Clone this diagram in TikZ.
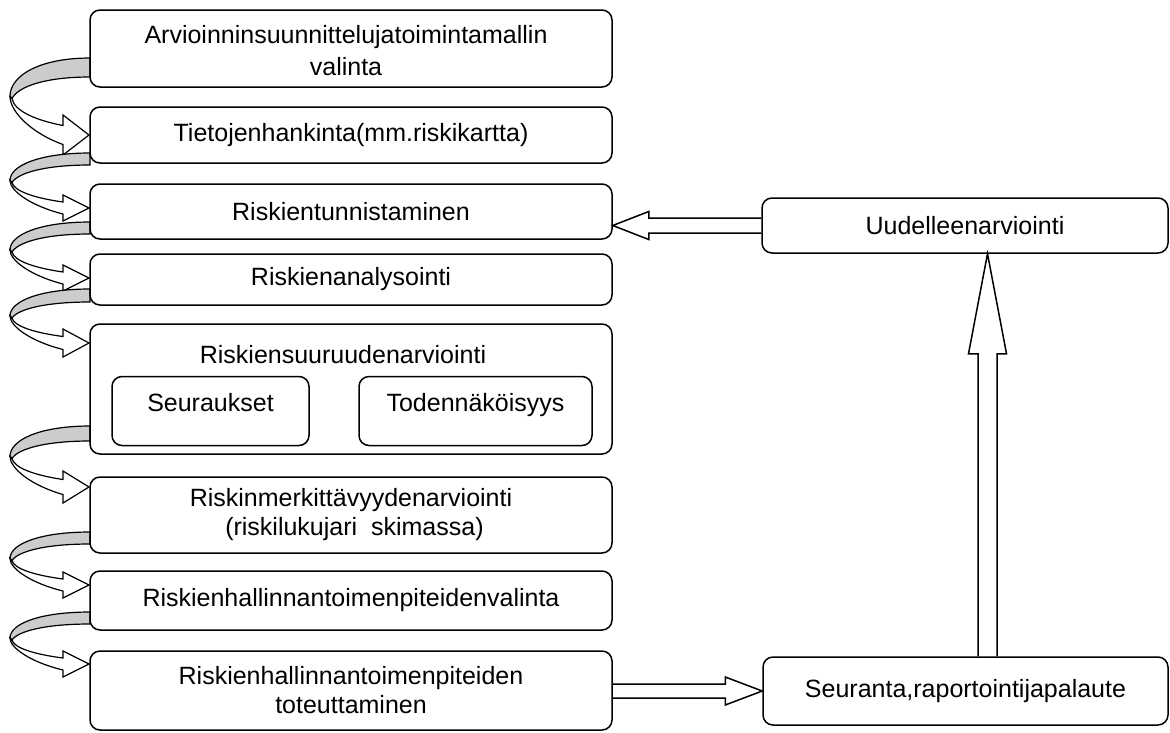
\documentclass[tikz,border=0pt]{standalone}
\usepackage{fontspec}
\setmainfont{Liberation Sans}
\usetikzlibrary{calc}
\newcommand{\boxfont}{\fontsize{25}{29}\selectfont}
\tikzset{
  procbox/.style={draw, rounded corners=10pt, line width=1.5pt, fill=white, inner sep=0pt, font=\boxfont},
  turnback/.style={draw, line width=1.2pt, fill=gray!40},
  turnfront/.style={draw, line width=1.2pt, fill=white},
  blockarrow/.style={draw, line width=1.5pt, line join=miter}
}
% curved ribbon arrow on the left: top of band, band width, tip
\newcommand{\turnarrow}[3]{%
  \pgfmathsetmacro{\cvM}{(#1+#3)/2}%
  \pgfmathsetmacro{\cvB}{#1+#2}%
  \pgfmathsetmacro{\cvC}{\cvM+2}%
  \pgfmathsetmacro{\cvA}{#1+0.45*(\cvM-#1)}%
  \pgfmathsetmacro{\cvG}{\cvB+0.45*(\cvC-\cvB)}%
  \pgfmathsetmacro{\cvO}{#3+#2/2}%
  \pgfmathsetmacro{\cvI}{#3-#2/2}%
  \pgfmathsetmacro{\cvP}{\cvM+0.3*(\cvO-\cvM)}%
  \pgfmathsetmacro{\cvQ}{\cvO-0.25*(\cvO-\cvM)}%
  \pgfmathsetmacro{\cvR}{\cvI-0.2*(\cvI-\cvC)}%
  \pgfmathsetmacro{\cvS}{\cvC+0.45*(\cvI-\cvC)}%
  \pgfmathsetmacro{\cvHb}{#3+#2+1}%
  \pgfmathsetmacro{\cvHt}{#3-#2-1}%
  \path[turnback] (90,#1) .. controls (40,#1) and (10,\cvA) .. (10,\cvM)
    -- (12,\cvC) .. controls (18,\cvG) and (45,\cvB) .. (90,\cvB) -- cycle;
  \path[turnfront] (10,\cvM) .. controls (10,\cvP) and (30,\cvQ) .. (63,\cvO)
    -- (63,\cvHb) -- (89,#3) -- (63,\cvHt) -- (63,\cvI)
    .. controls (35,\cvR) and (14,\cvS) .. (12,\cvC) -- cycle;
}

\begin{document}
\begin{tikzpicture}[x=1pt, y=-1pt]
\useasboundingbox (0,0) rectangle (1170,732);
% arrows between the steps
\turnarrow{58}{19}{135}
\turnarrow{153}{12}{208}
\turnarrow{222}{12}{278}
\turnarrow{289}{13}{343}
\turnarrow{426}{15}{487}
\turnarrow{532}{12}{585}
\turnarrow{612}{12}{664}
% steps
\node[procbox, minimum width=522, minimum height=77] (b1) at (351,48.5) {};
\node[font=\boxfont, align=center] (b1t) at (346,51) {Arvioinninsuunnittelujatoimintamallin\\[3pt]valinta};
\node[procbox, minimum width=522, minimum height=56] (b2) at (351,135) {Tietojenhankinta(mm.riskikartta)};
\node[procbox, minimum width=522, minimum height=55] (b3) at (351,211.5) {Riskientunnistaminen};
\node[procbox, minimum width=522, minimum height=51] (b4) at (351,279.5) {Riskienanalysointi};
\node[procbox, minimum width=522, minimum height=130] (b5) at (351,389) {};
\node[font=\boxfont] (b5t) at (343,355) {Riskiensuuruudenarviointi};
\node[procbox, minimum width=197, minimum height=69, text depth=18pt] (seur) at (210.5,411) {Seuraukset};
\node[procbox, minimum width=233, minimum height=69, text depth=18pt] (tod) at (475.5,411) {Todennäköisyys};
\node[procbox, minimum width=522, minimum height=76, align=center] (b6) at (351,515) {Riskinmerkittävyydenarviointi\\\ (riskilukujari\ \ skimassa)};
\node[procbox, minimum width=522, minimum height=59] (b7) at (351,600.5) {Riskienhallinnantoimenpiteidenvalinta};
\node[procbox, minimum width=522, minimum height=79, align=center] (b8) at (351,690.5) {Riskienhallinnantoimenpiteiden\\toteuttaminen};
\node[procbox, minimum width=406, minimum height=55] (uud) at (965,225.5) {Uudelleenarviointi};
\node[procbox, minimum width=405, minimum height=68] (seu) at (965.5,691) {Seuranta,raportointijapalaute};
% feedback loop
\draw[blockarrow] let \p1=(uud.west), \p2=(b3.east) in
  (\x1,\y1+7.5pt) -- (\x2+36pt,\y1+7.5pt) -- (\x2+36pt,\y1+14pt) -- (\x2,\y1)
  -- (\x2+36pt,\y1-14pt) -- (\x2+36pt,\y1-7.5pt) -- (\x1,\y1-7.5pt);
\draw[blockarrow] let \p1=(b8.east), \p2=(seu.west) in
  (\x1,\y2+7pt) -- (\x2-37pt,\y2+7pt) -- (\x2-37pt,\y2+14pt) -- (\x2,\y2)
  -- (\x2-37pt,\y2-14pt) -- (\x2-37pt,\y2-7pt) -- (\x1,\y2-7pt);
\draw[blockarrow] let \p1=($(seu.north)+(22pt,0)$), \p2=(uud.south) in
  (\x1-9.5pt,\y1) -- (\x1-9.5pt,\y2-100pt) -- (\x1-19pt,\y2-100pt) -- (\x1,\y2)
  -- (\x1+19pt,\y2-100pt) -- (\x1+9.5pt,\y2-100pt) -- (\x1+9.5pt,\y1);
\end{tikzpicture}
\end{document}
